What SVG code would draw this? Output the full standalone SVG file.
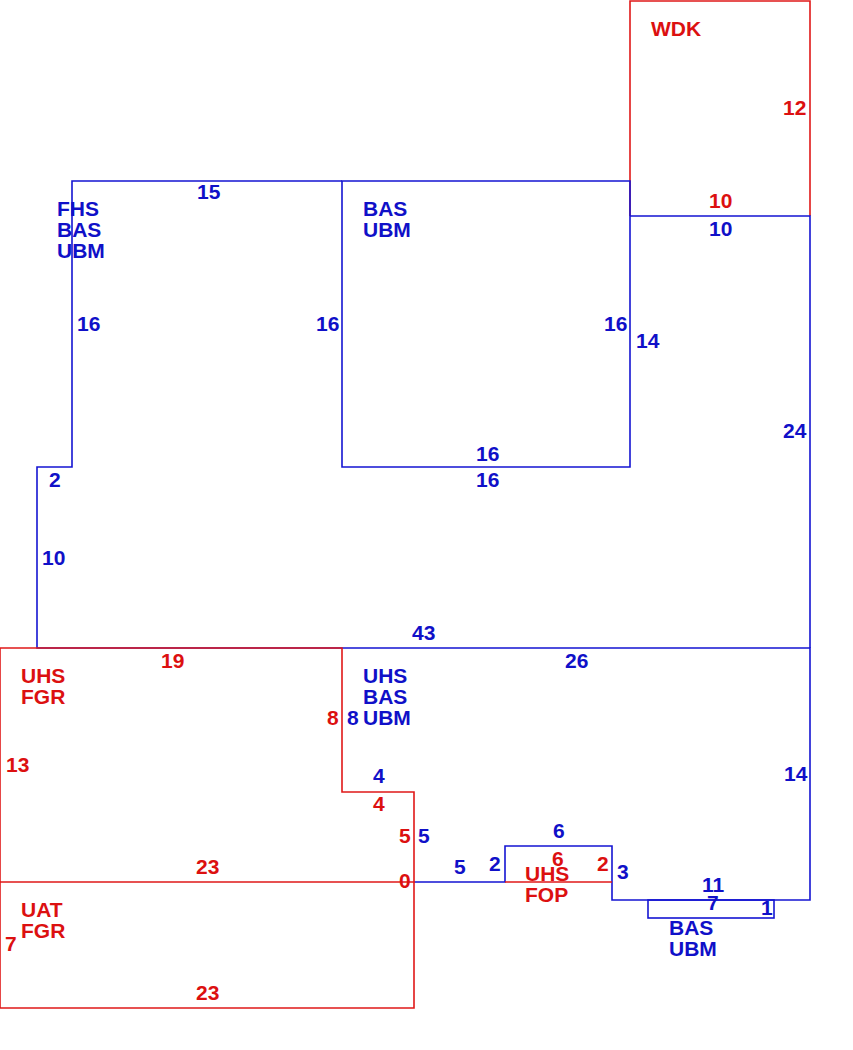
<svg xmlns="http://www.w3.org/2000/svg" width="853" height="1050" viewBox="0 0 853 1050">
<style>
.b{fill:none;stroke:#1414d2;stroke-width:1.6}
.r{fill:none;stroke:#e01818;stroke-width:1.6}
text{font-family:"Liberation Sans",Arial,sans-serif;font-size:21px;font-weight:bold}
.tb{fill:#1010c8}
.tr{fill:#dc1010}
</style>
<rect width="853" height="1050" fill="#ffffff"/>
<g id="wdk">
<path class="r" d="M630,216 V1 H810 V216"/>
<text class="tr" x="651" y="36">WDK</text>
<text class="tr" x="783" y="115">12</text>
<text class="tr" x="709" y="208">10</text>
</g>
<g id="upper-blue">
<path class="b" d="M342,181 H630 V467 H342 Z"/>
<path class="b" d="M342,181 H72 V467 H37 V648 H342"/>
<path class="b" d="M630,216 H810 V648"/>
<text class="tb" x="57" y="216">FHS</text>
<text class="tb" x="57" y="237">BAS</text>
<text class="tb" x="57" y="258">UBM</text>
<text class="tb" x="197" y="199">15</text>
<text class="tb" x="77" y="331">16</text>
<text class="tb" x="316" y="331">16</text>
<text class="tb" x="49" y="487">2</text>
<text class="tb" x="42" y="565">10</text>
<text class="tb" x="363" y="216">BAS</text>
<text class="tb" x="363" y="237">UBM</text>
<text class="tb" x="604" y="331">16</text>
<text class="tb" x="476" y="461">16</text>
<text class="tb" x="476" y="487">16</text>
<text class="tb" x="709" y="236">10</text>
<text class="tb" x="636" y="348">14</text>
<text class="tb" x="783" y="438">24</text>
<text class="tb" x="412" y="640">43</text>
</g>
<g id="uhs-bas-ubm">
<path class="b" d="M342,648 H810 V900 H612 V846 H505 V882 H414"/>
<text class="tb" x="363" y="683">UHS</text>
<text class="tb" x="363" y="704">BAS</text>
<text class="tb" x="363" y="725">UBM</text>
<text class="tb" x="347" y="725">8</text>
<text class="tb" x="565" y="668">26</text>
<text class="tb" x="784" y="781">14</text>
<text class="tb" x="373" y="783">4</text>
<text class="tb" x="418" y="843">5</text>
<text class="tb" x="454" y="874">5</text>
<text class="tb" x="489" y="871">2</text>
<text class="tb" x="553" y="838">6</text>
<text class="tb" x="617" y="879">3</text>
<text class="tb" x="702" y="892">11</text>
</g>
<g id="bas-ubm-small">
<rect class="b" x="648" y="900" width="126" height="18"/>
<text class="tb" x="707" y="910">7</text>
<text class="tb" x="761" y="915">1</text>
<text class="tb" x="669" y="935">BAS</text>
<text class="tb" x="669" y="956">UBM</text>
</g>
<g id="uhs-fgr">
<path class="r" d="M0,648 H342 V792 H414 V882 H0 Z"/>
<text class="tr" x="21" y="683">UHS</text>
<text class="tr" x="21" y="704">FGR</text>
<text class="tr" x="161" y="668">19</text>
<text class="tr" x="327" y="725">8</text>
<text class="tr" x="6" y="772">13</text>
<text class="tr" x="373" y="811">4</text>
<text class="tr" x="399" y="843">5</text>
<text class="tr" x="196" y="874">23</text>
<text class="tr" x="399" y="888">0</text>
</g>
<g id="uat-fgr">
<path class="r" d="M0,882 V1008 H414 V882"/>
<text class="tr" x="21" y="917">UAT</text>
<text class="tr" x="21" y="938">FGR</text>
<text class="tr" x="5" y="951">7</text>
<text class="tr" x="196" y="1000">23</text>
</g>
<g id="uhs-fop">
<path class="r" d="M505,882 H612"/>
<text class="tr" x="552" y="866">6</text>
<text class="tr" x="597" y="871">2</text>
<text class="tr" x="525" y="881">UHS</text>
<text class="tr" x="525" y="902">FOP</text>
</g>
</svg>
